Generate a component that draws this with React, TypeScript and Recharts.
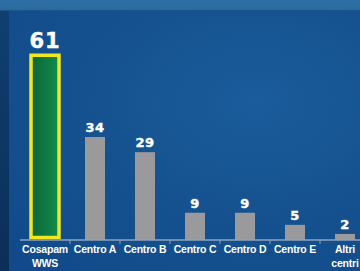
import React from 'react';
import { BarChart, Bar, XAxis, YAxis, Cell, LabelList } from 'recharts';

const categories = ['Cosapam WWS', 'Centro A', 'Centro B', 'Centro C', 'Centro D', 'Centro E', 'Altri centri'];
const values = [61, 34, 29, 9, 9, 5, 2];

const data = categories.map((name, i) => ({ name, value: values[i] }));

const AXIS_COLOR = '#8ea3bd';

const BarShape = (props: any) => {
  const { x, y, width, height, index } = props;
  if (index === 0) {
    const extra = 4;
    return (
      <rect
        x={x - extra}
        y={y}
        width={width + extra * 2}
        height={height - 2.5}
        fill="url(#greenGrad)"
        stroke="#f2e61c"
        strokeWidth={3.5}
      />
    );
  }
  return <rect x={x} y={y} width={width} height={height} fill="#9a9a9c" />;
};

const ValueLabel = (props: any) => {
  const { x, y, width, value, index } = props;
  const big = index === 0;
  return (
    <text
      x={x + width / 2}
      y={y - (big ? 7 : 5)}
      textAnchor="middle"
      fill="#ffffff"
      fontFamily="'DejaVu Sans', sans-serif"
      fontWeight="bold"
      fontSize={big ? 21 : 13}
      letterSpacing={big ? 1 : 0.5}
      stroke="#ffffff"
      strokeWidth={0.4}
    >
      {value}
    </text>
  );
};

const Tick = (props: any) => {
  const { x, y, payload, index } = props;
  const label: string = payload.value;
  const parts = label.split(' ');
  let lines: string[];
  if (label === 'Cosapam WWS' || label === 'Altri centri') lines = parts;
  else lines = [label];
  const half = 25;
  return (
    <g>
      {index > 0 && (
        <line x1={x - half} y1={y} x2={x - half} y2={y + 4} stroke={AXIS_COLOR} strokeWidth={1} />
      )}
      <text
        x={x}
        y={y}
        textAnchor="middle"
        fill="#ffffff"
        fontFamily="'Liberation Sans', Arial, sans-serif"
        fontWeight="bold"
        fontSize={10.5}
        letterSpacing={-0.2}
      >
        {lines.map((l, i) => (
          <tspan key={i} x={x} dy={i === 0 ? 13 : 14}>
            {l}
          </tspan>
        ))}
      </text>
    </g>
  );
};

export default function App() {
  return (
    <div
      style={{
        position: 'absolute',
        left: 0,
        top: 0,
        width: 360,
        height: 271,
        overflow: 'hidden',
        background: 'linear-gradient(180deg, #2d6ea5 0px, #2a6aa1 10px, #0f3f70 11px, #0b2f58 271px)',
      }}
    >
      <div
        style={{
          position: 'absolute',
          left: 9,
          top: 11,
          width: 351,
          height: 260,
          background:
            'radial-gradient(ellipse at 70% 35%, #1b5c9c 0%, #15528f 45%, #11498a 100%)',
        }}
      />
      <div style={{ position: 'absolute', left: 0, top: 0 }}>
        <BarChart
          width={370}
          height={271}
          data={data}
          margin={{ top: 28, right: 0, left: 20, bottom: 0 }}
          barCategoryGap="30%"
        >
          <defs>
            <linearGradient id="greenGrad" x1="0" y1="0" x2="1" y2="0">
              <stop offset="0%" stopColor="#0c6636" />
              <stop offset="100%" stopColor="#118c4b" />
            </linearGradient>
          </defs>
          <YAxis hide domain={[0, 70]} />
          <XAxis
            dataKey="name"
            height={31}
            interval={0}
            tickLine={false}
            tickSize={0}
            tickMargin={0}
            axisLine={{ stroke: AXIS_COLOR, strokeWidth: 1.5 }}
            tick={<Tick />}
          />
          <Bar dataKey="value" isAnimationActive={false} shape={<BarShape />}>
            {data.map((d, i) => (
              <Cell key={i} fill={i === 0 ? '#0f7a40' : '#9a9a9c'} />
            ))}
            <LabelList dataKey="value" content={<ValueLabel />} />
          </Bar>
        </BarChart>
      </div>
    </div>
  );
}
